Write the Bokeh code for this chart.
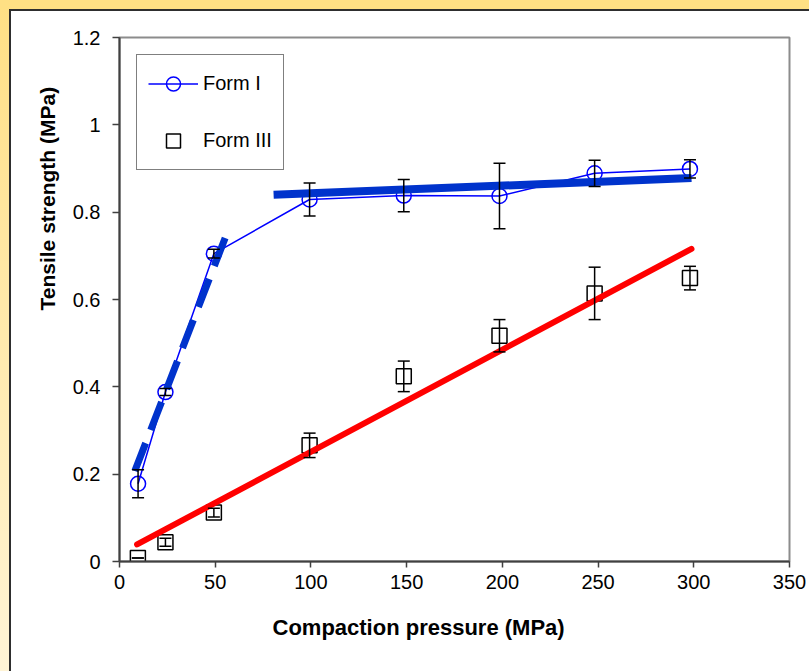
from bokeh.plotting import figure
from bokeh.models import (ColumnDataSource, Whisker, TeeHead, Legend, LegendItem,
                          Title, FixedTicker, NumeralTickFormatter, Range1d)
from bokeh.embed import file_html
from bokeh.resources import INLINE

# ---- data ----
pressure_I = [9.7, 24.0, 49.3, 99.3, 148.5, 198.5, 248.2, 298.0]
strength_I = [0.178, 0.388, 0.705, 0.829, 0.838, 0.837, 0.889, 0.899]
err_I = [0.032, 0.008, 0.010, 0.038, 0.037, 0.075, 0.030, 0.021]

pressure_III = [9.6, 24.0, 49.3, 99.3, 148.5, 198.5, 248.2, 298.0]
strength_III = [0.008, 0.044, 0.112, 0.266, 0.424, 0.517, 0.614, 0.649]
err_III = [0.0, 0.009, 0.010, 0.028, 0.035, 0.037, 0.060, 0.027]

# fitted trend lines (end points)
fit_low_x = [8.0, 56.0]
fit_low_y = [0.207, 0.750]
fit_high_x = [80.5, 298.8]
fit_high_y = [0.840, 0.878]
fit_III_x = [9.2, 298.8]
fit_III_y = [0.039, 0.716]

x_ticks = [0, 50, 100, 150, 200, 250, 300, 350]
y_ticks = [0, 0.2, 0.4, 0.6, 0.8, 1.0, 1.2]

x_title = "Compaction pressure (MPa)"
y_title = "Tensile strength (MPa)"

FONT = "Liberation Sans"

p = figure(width=809, height=671, output_backend="svg", toolbar_location=None,
           x_range=Range1d(0, 350), y_range=Range1d(0, 1.2),
           min_border_left=119, min_border_right=20, min_border_top=37,
           min_border_bottom=110)
p.styles = {
    "background": ("linear-gradient(#2e2e2e,#2e2e2e) 9px 9px/100% 2px no-repeat, "
                   "linear-gradient(#2e2e2e,#2e2e2e) 9px 9px/2px 100% no-repeat, "
                   "linear-gradient(#FFE084,#FFE084) 0 0/100% 9px no-repeat, "
                   "linear-gradient(#FFE084,#FFF4D6) 0 0/9px 100% no-repeat, "
                   "white")
}
p.background_fill_color = "white"
p.border_fill_color = "white"
p.border_fill_alpha = 0
p.xgrid.visible = False
p.ygrid.visible = False
p.outline_line_color = "#8c8c8c"
p.outline_line_width = 2

for ax in (p.xaxis[0], p.yaxis[0]):
    ax.axis_line_color = "#404040"
    ax.axis_line_width = 2
    ax.major_tick_line_color = "#404040"
    ax.major_tick_line_width = 1.5
    ax.major_tick_in = 0
    ax.minor_tick_line_color = None
    ax.major_label_text_font = FONT
    ax.major_label_text_font_size = "20px"
    ax.major_label_text_color = "black"

p.xaxis.ticker = FixedTicker(ticks=x_ticks)
p.yaxis.ticker = FixedTicker(ticks=y_ticks)
p.yaxis.formatter = NumeralTickFormatter(format="0.[0]")
p.xaxis.major_tick_out = 6
p.yaxis.major_tick_out = 7
p.xaxis.major_label_standoff = 7
p.yaxis.major_label_standoff = 12

src_I = ColumnDataSource(dict(x=pressure_I, y=strength_I,
                              lo=[a - b for a, b in zip(strength_I, err_I)],
                              hi=[a + b for a, b in zip(strength_I, err_I)]))
src_III = ColumnDataSource(dict(x=pressure_III, y=strength_III,
                                lo=[a - b for a, b in zip(strength_III, err_III)],
                                hi=[a + b for a, b in zip(strength_III, err_III)]))

for src in (src_I, src_III):
    w = Whisker(source=src, base="x", upper="hi", lower="lo",
                line_color="black", line_width=1.5, level="glyph",
                upper_head=TeeHead(size=12, line_color="black", line_width=1.5),
                lower_head=TeeHead(size=12, line_color="black", line_width=1.5))
    p.add_layout(w)

line_I = p.line("x", "y", source=src_I, line_color="#0000FF", line_width=1.5)
pts_I = p.scatter("x", "y", source=src_I, marker="circle", size=15,
                  fill_color=None, line_color="#0000FF", line_width=1.5)
pts_III = p.scatter("x", "y", source=src_III, marker="square", size=15,
                    fill_color=None, line_color="black", line_width=1.5)

p.line(fit_low_x, fit_low_y, line_color="#0033CC", line_width=7,
       line_dash="30 14", line_cap="butt")
p.line(fit_high_x, fit_high_y, line_color="#0033CC", line_width=8)
p.line(fit_III_x, fit_III_y, line_color="#FF0000", line_width=6, line_cap="round")

legend = Legend(items=[LegendItem(label="Form I", renderers=[line_I, pts_I]),
                       LegendItem(label="Form III", renderers=[pts_III])],
                location="top_left", margin=17,
                border_line_color="black", border_line_width=1,
                background_fill_color="white", background_fill_alpha=1,
                label_text_font=FONT, label_text_font_size="20px",
                label_text_color="black",
                padding=11, spacing=22, glyph_width=50, glyph_height=35,
                label_height=35, label_standoff=5)
p.add_layout(legend)

p.add_layout(Title(text=x_title, align="left", offset=153, standoff=42,
                   text_font=FONT, text_font_size="22px", text_font_style="bold",
                   text_color="black"), "below")
p.add_layout(Title(text=y_title, align="left", offset=251, standoff=22,
                   text_font=FONT, text_font_size="21px", text_font_style="bold",
                   text_color="black"), "left")

open("out.html", "w").write(file_html(p, INLINE))
